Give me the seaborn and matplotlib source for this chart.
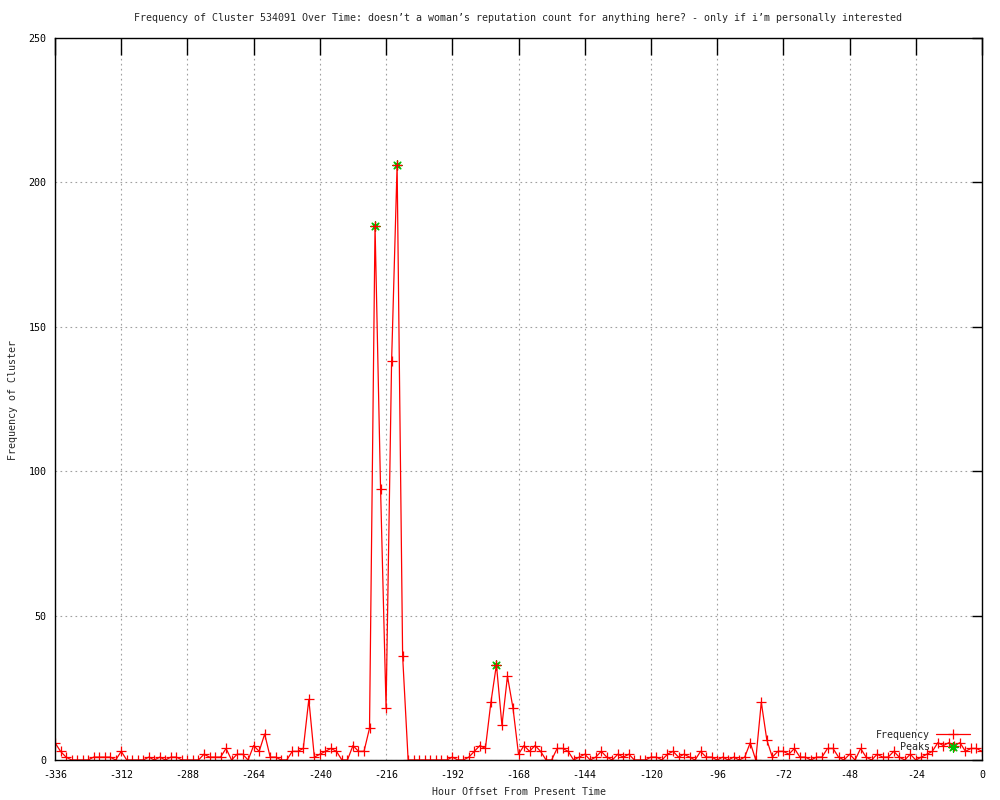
import numpy as np
import pandas as pd
import matplotlib
matplotlib.use("Agg")
import matplotlib.pyplot as plt
import seaborn as sns

# hour offsets, one reading every 2 hours
hours = list(range(-336, 1, 2))
freq = [6, 3, 1, 0, 0, 0, 0, 1, 1, 1, 1, 0, 3, 0, 0, 0, 0, 1, 0, 1,
        0, 1, 1, 0, 0, 0, 0, 2, 1, 1, 1, 4, 0, 2, 2, 0, 5, 3, 9, 1,
        1, 0, 0, 3, 3, 4, 21, 1, 2, 3, 4, 3, 0, 0, 5, 3, 3, 11, 185, 94,
        18, 138, 206, 36, 0, 0, 0, 0, 0, 0, 0, 0, 1, 0, 0, 1, 3, 5, 4, 20,
        33, 12, 29, 18, 2, 5, 3, 5, 3, 0, 0, 4, 4, 3, 0, 1, 2, 0, 1, 3,
        1, 0, 2, 1, 2, 0, 0, 0, 1, 1, 0, 2, 3, 1, 2, 1, 0, 3, 1, 1,
        0, 1, 0, 1, 0, 1, 6, 0, 20, 7, 1, 3, 3, 2, 4, 1, 1, 0, 1, 1,
        4, 4, 1, 0, 2, 0, 4, 1, 0, 2, 1, 1, 3, 1, 0, 2, 0, 1, 2, 3,
        6, 5, 6, 5, 6, 3, 4, 4, 3]

peak_hours = [-220, -212, -176]
peak_freq = [185, 206, 33]

x_ticks = list(range(-336, 1, 24))
y_ticks = [0, 50, 100, 150, 200, 250]

title = ("Frequency of Cluster 534091 Over Time: doesn\u2019t a woman\u2019s reputation "
         "count for anything here? - only if i\u2019m personally interested")

df = pd.DataFrame({"hour": hours, "freq": freq})
peaks = pd.DataFrame({"hour": peak_hours, "freq": peak_freq})

sns.set_style("white")
plt.rcParams["font.family"] = ["DejaVu Sans Mono"]
plt.rcParams["axes.unicode_minus"] = False
fs = 7.2

fig = plt.figure(figsize=(10, 8), dpi=100)
ax = fig.add_axes([0.055, 0.05, 0.927, 0.9025])

sns.lineplot(data=df, x="hour", y="freq", ax=ax, color="red", lw=0.9,
             marker="+", markersize=7, markeredgewidth=0.9,
             markeredgecolor="red", label="Frequency")
sns.scatterplot(data=peaks, x="hour", y="freq", ax=ax, color="#00c000",
                marker=(8, 2, 0), s=45, linewidth=0.9, label="Peaks", zorder=1)

ax.set_xlim(-336, 0)
ax.set_ylim(0, 250)
ax.set_xticks(x_ticks)
ax.set_yticks(y_ticks)
ax.set_xlabel("")
ax.set_ylabel("")
ax.grid(True, color="#a0a0a0", linestyle=(0, (1.5, 3)), linewidth=0.8)
ax.tick_params(direction="in", width=1, top=True, right=True,
               labelsize=fs, colors="black")
ax.tick_params(axis="x", length=12, pad=7)
ax.tick_params(axis="y", length=7, pad=6)
for sp in ax.spines.values():
    sp.set_color("black")
    sp.set_linewidth(1)

fig.text(0.5185, 1 - 18 / 800, title, ha="center", va="center", fontsize=fs)
fig.text(0.5185, 1 - 792 / 800, "Hour Offset From Present Time",
         ha="center", va="center", fontsize=fs)
fig.text(0.013, 0.5, "Frequency of Cluster", rotation=90,
         ha="center", va="center", fontsize=fs)

ax.legend(loc="lower right", bbox_to_anchor=(0.996, 0.0), frameon=False,
          markerfirst=False, fontsize=fs, handlelength=3.4,
          handletextpad=0.6, labelspacing=0.25, borderpad=0.3)

fig.savefig("out.png", dpi=100)
